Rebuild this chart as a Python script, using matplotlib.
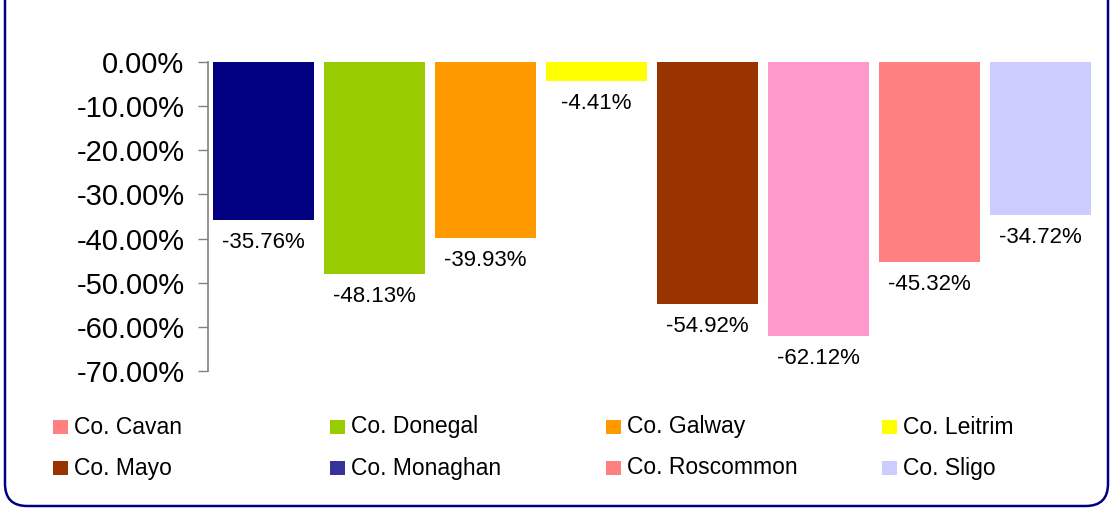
import matplotlib
matplotlib.use("Agg")
import matplotlib.pyplot as plt
from matplotlib.patches import FancyBboxPatch, Rectangle
from matplotlib.ticker import FuncFormatter

plt.rcParams['font.family'] = ['Liberation Sans', 'DejaVu Sans']

categories = ["Co. Cavan", "Co. Donegal", "Co. Galway", "Co. Leitrim",
              "Co. Mayo", "Co. Monaghan", "Co. Roscommon", "Co. Sligo"]
values = [-35.76, -48.13, -39.93, -4.41, -54.92, -62.12, -45.32, -34.72]
bar_colors = ["#000080", "#99CC00", "#FF9900", "#FFFF00",
              "#993300", "#FF99CC", "#FF8080", "#CCCCFF"]
legend_colors = ["#FF8080", "#99CC00", "#FF9900", "#FFFF00",
                 "#993300", "#333399", "#FF8080", "#CCCCFF"]
yticks = [0, -10, -20, -30, -40, -50, -60, -70]

W, H = 1110, 508
fig = plt.figure(figsize=(W / 100, H / 100), dpi=100)

# rounded frame (top edge beyond the image)
frame = FancyBboxPatch((5 / W, 2 / H), 1103 / W, 1.2,
                       boxstyle="round,pad=0,rounding_size=0.02",
                       transform=fig.transFigure, fill=False,
                       edgecolor="#000080", linewidth=1.8, clip_on=False,
                       mutation_aspect=W / H)
fig.patches.append(frame)

ax_left, ax_right = 208, 1096
ax_top, ax_bot = 62, 371
ax = fig.add_axes([ax_left / W, 1 - ax_bot / H, (ax_right - ax_left) / W,
                   (ax_bot - ax_top) / H])

x = list(range(len(categories)))
ax.bar(x, values, width=0.91, color=bar_colors, linewidth=0)
ax.set_xlim(-0.5, len(categories) - 0.5)
ax.set_ylim(-70, 0)
ax.set_yticks(yticks)
ax.yaxis.set_major_formatter(FuncFormatter(lambda v, p: f"{v:.2f}%"))
ax.tick_params(axis='y', direction='out', length=7, width=1, color='#808080',
               labelsize=21, pad=10, labelcolor='black')
ax.set_xticks([])
for s in ['top', 'right', 'bottom']:
    ax.spines[s].set_visible(False)
ax.spines['left'].set_color('#808080')
ax.spines['left'].set_linewidth(1.2)
ax.patch.set_alpha(0)

for xi, v in zip(x, values):
    ax.annotate(f"{v:.2f}%", (xi, v), xytext=(0, -16), textcoords='offset points',
                ha='center', va='center', fontsize=16, color='black')

# legend: 4 columns x 2 rows
col_x = [53, 330, 606, 882]
row_y = [427, 468]
for i, (name, c) in enumerate(zip(categories, legend_colors)):
    cx = col_x[i % 4]
    cy = row_y[i // 4]
    fig.patches.append(Rectangle((cx / W, 1 - (cy + 7) / H), 15 / W, 14 / H,
                                 transform=fig.transFigure, facecolor=c,
                                 edgecolor='none'))
    fig.text((cx + 21) / W, 1 - cy / H, name, fontsize=16.5, va='center',
             ha='left', color='black')

fig.savefig("out.png", dpi=100)
